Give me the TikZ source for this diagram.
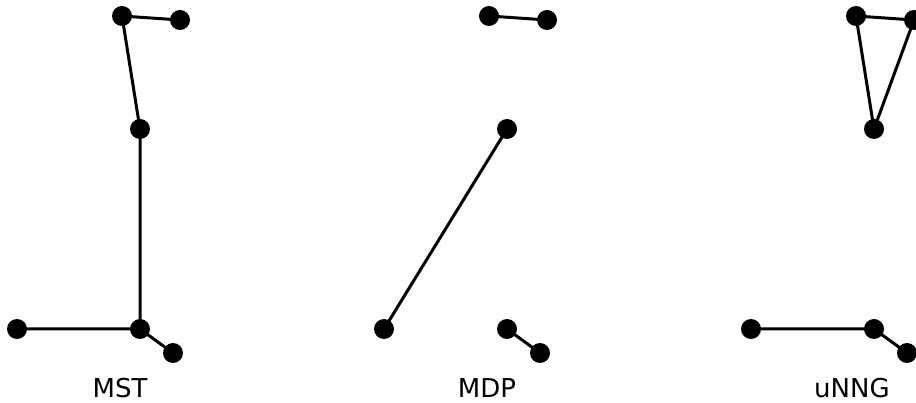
\documentclass[tikz,border=0pt]{standalone}
\usepackage{fontspec}
\setmainfont{DejaVu Sans}
\begin{document}
\begin{tikzpicture}[x=1pt,y=-1pt,
  pt/.style={circle,fill=black,inner sep=0pt,minimum size=20pt},
  edge/.style={line width=3pt,black},
  lbl/.style={anchor=base,font=\fontsize{26}{30}\selectfont}]
\useasboundingbox (0,0) rectangle (916,403);
\clip (0,0) rectangle (916,403);
% MST
\foreach \n/\x/\y in {a/122/16,b/180/20,c/140/129,d/17/329,e/140/329,f/173/353}
  \coordinate (m\n) at (\x,\y);
\draw[edge] (ma)--(mb) (ma)--(mc) (mc)--(me) (md)--(me) (me)--(mf);
\foreach \n in {a,b,c,d,e,f} \node[pt] (M\n) at (m\n) {};
\node[lbl] (lmst) at (120,398) {MST};
% MDP
\foreach \n/\x/\y in {a/489/16,b/547/20,c/507/129,d/384/329,e/507/329,f/540/353}
  \coordinate (p\n) at (\x,\y);
\draw[edge] (pa)--(pb) (pc)--(pd) (pe)--(pf);
\foreach \n in {a,b,c,d,e,f} \node[pt] (P\n) at (p\n) {};
\node[lbl] (lmdp) at (487,398) {MDP};
% uNNG
\foreach \n/\x/\y in {a/856/16,b/914/20,c/874/129,d/751/329,e/874/329,f/907/353}
  \coordinate (u\n) at (\x,\y);
\draw[edge] (ua)--(ub) (ua)--(uc) (ub)--(uc) (ud)--(ue) (ue)--(uf);
\foreach \n in {a,b,c,d,e,f} \node[pt] (U\n) at (u\n) {};
\node[lbl] (lunng) at (852,398) {uNNG};
\end{tikzpicture}
\end{document}
